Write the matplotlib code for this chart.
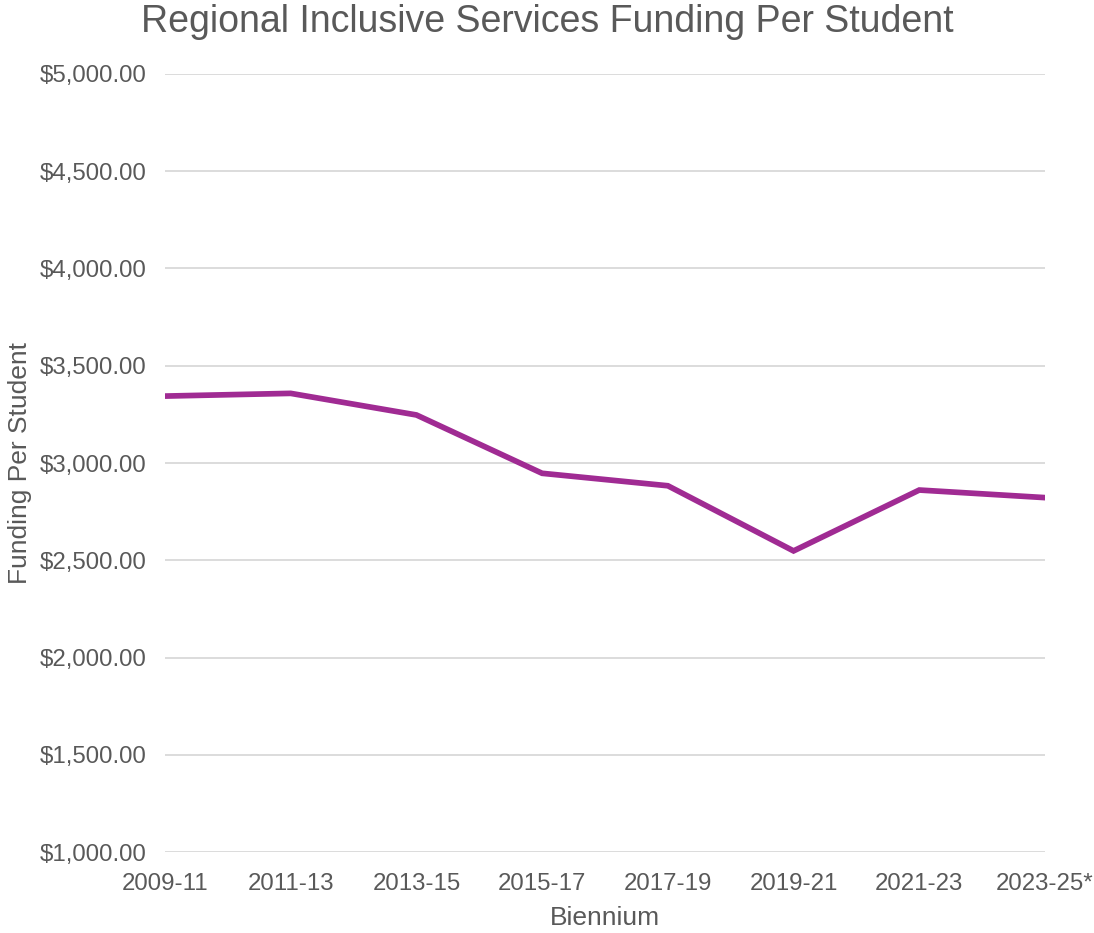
import matplotlib
matplotlib.use('Agg')
import matplotlib.pyplot as plt
from matplotlib.ticker import FuncFormatter, MultipleLocator

biennia = ['2009-11', '2011-13', '2013-15', '2015-17', '2017-19', '2019-21', '2021-23', '2023-25*']
funding = [3344, 3358, 3247, 2947, 2883, 2548, 2861, 2822]

plt.rcParams['font.family'] = ['Liberation Sans', 'DejaVu Sans']
text_col = '#595959'

fig = plt.figure(figsize=(10.94, 9.33), dpi=100)
ax = fig.add_axes([0.1508, 0.0868, 0.8044, 0.8339])

x = list(range(len(biennia)))
ax.plot(x, funding, color='#A02B93', lw=4.1, solid_joinstyle='miter', zorder=3)

ax.set_xlim(0, len(biennia) - 1)
ax.set_ylim(1000, 5000)
ax.yaxis.set_major_locator(MultipleLocator(500))
ax.yaxis.set_major_formatter(FuncFormatter(lambda v, p: f'${v:,.2f}'))
ax.set_xticks(x)
ax.set_xticklabels(biennia)
ax.grid(axis='y', color='#D9D9D9', lw=1.3)
ax.set_axisbelow(True)
for s in ax.spines.values():
    s.set_visible(False)
ax.tick_params(length=0, labelsize=17.3, colors=text_col)
ax.tick_params(axis='y', pad=13.5)
ax.tick_params(axis='x', pad=15)

ax.set_xlabel('Biennium', fontsize=19, color=text_col, labelpad=8)
ax.set_ylabel('Funding Per Student', fontsize=19, color=text_col, labelpad=5)
fig.text(0.5, 0.976, 'Regional Inclusive Services Funding Per Student',
         ha='center', va='center', fontsize=27, color=text_col)

fig.savefig('out.png', dpi=100, facecolor='white')
